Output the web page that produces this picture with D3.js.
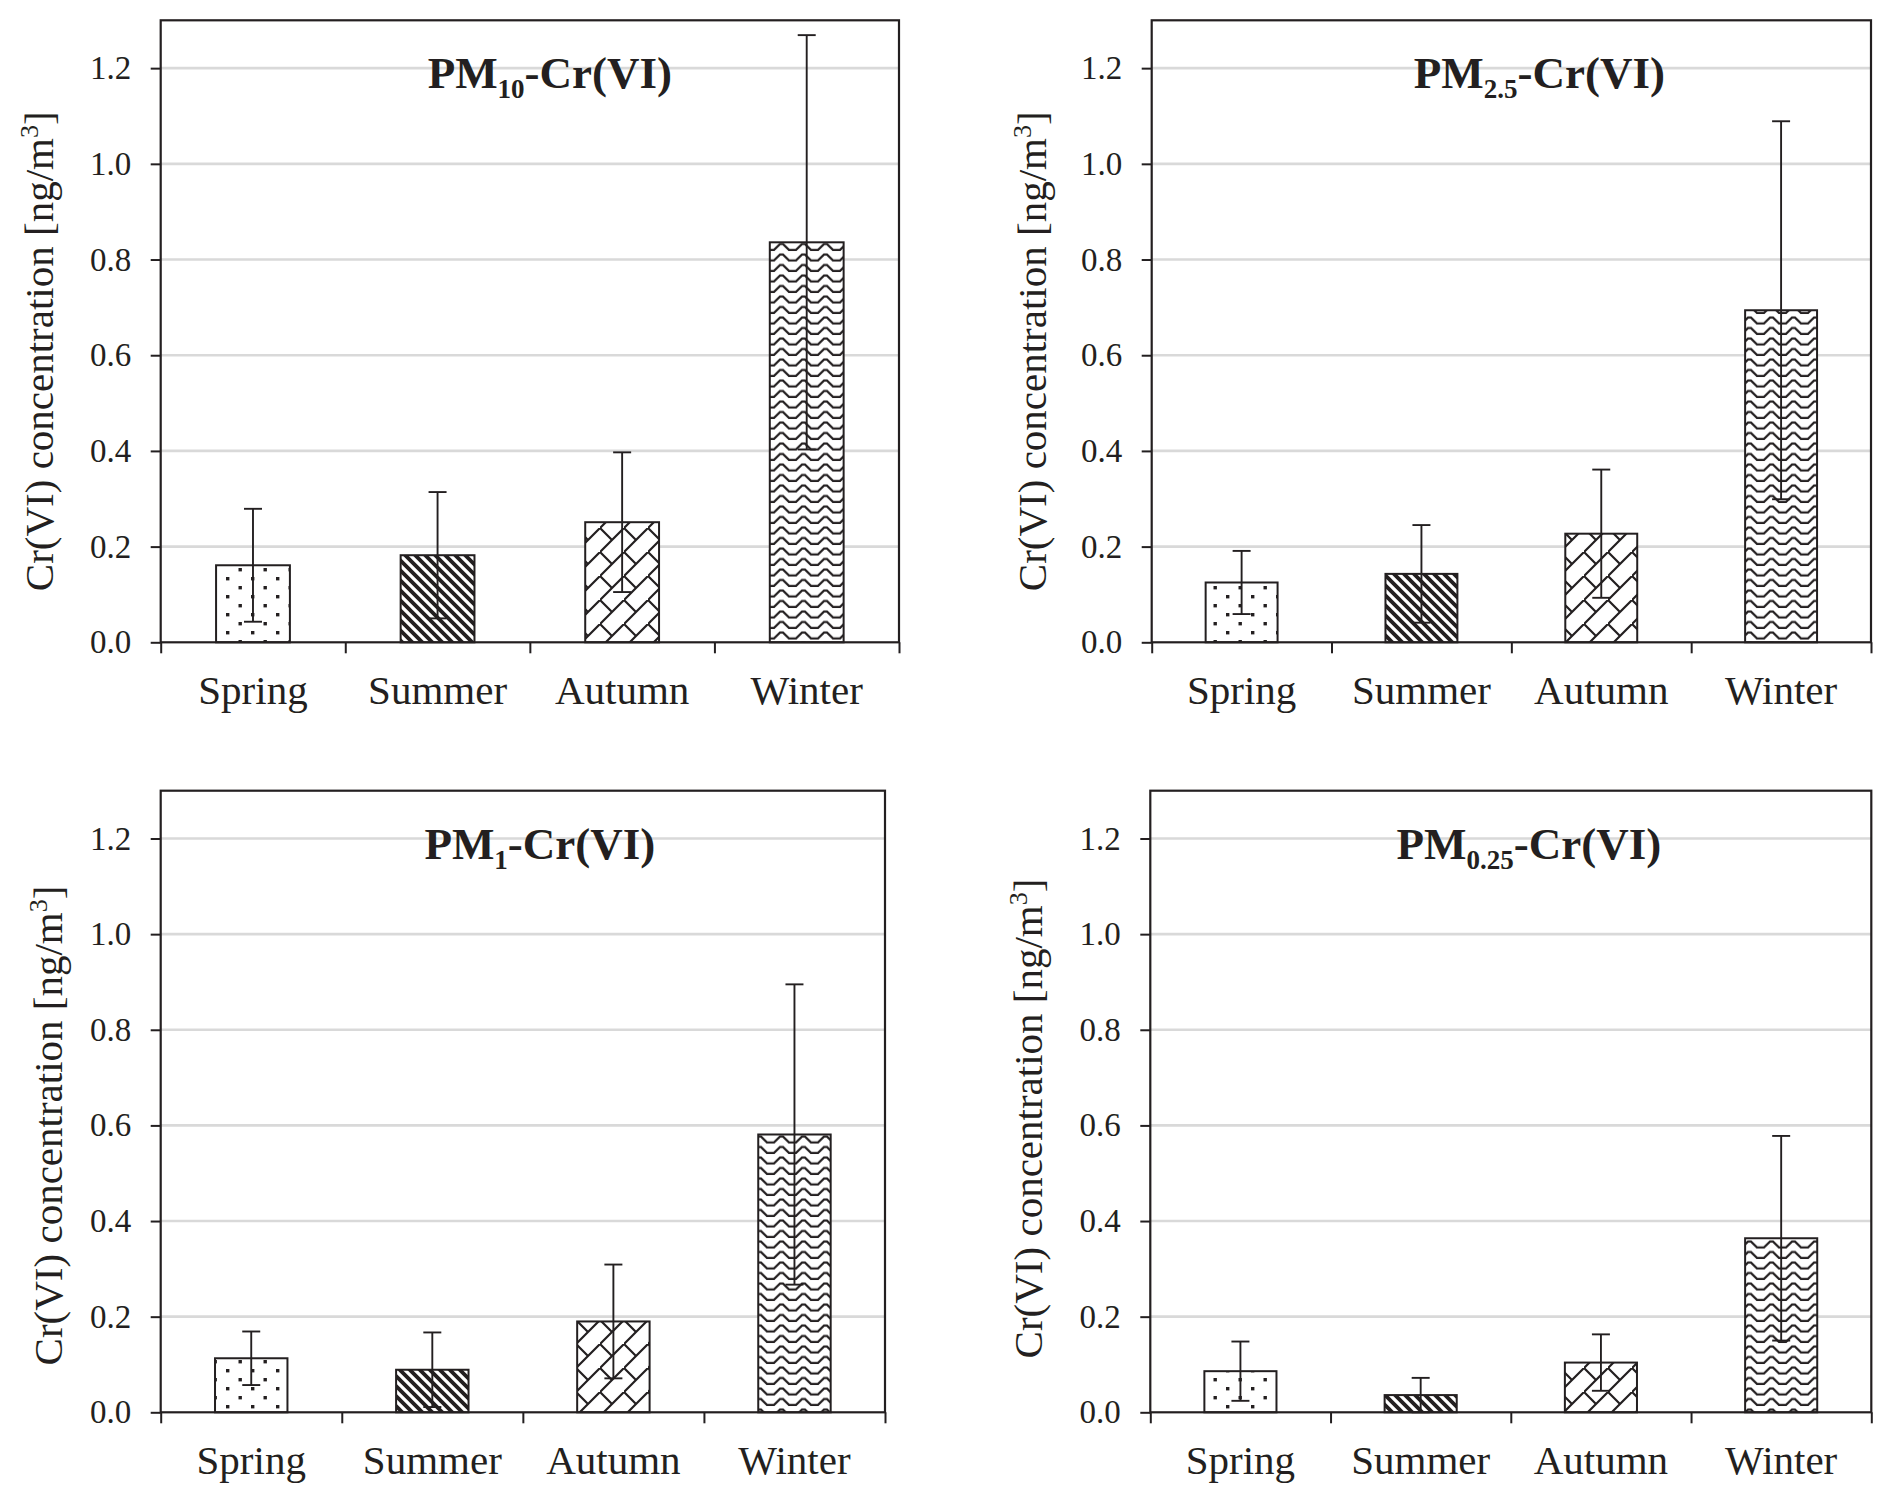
<!DOCTYPE html>
<html>
<head>
<meta charset="utf-8">
<script src="https://cdn.jsdelivr.net/npm/d3@7"></script>
<style>
  body { margin: 0; background: #fff; }
  text { font-family: 'Liberation Serif', 'Times New Roman', serif; fill: #231f20; }
</style>
</head>
<body>
<svg id="chart"></svg>
<script>
// seasons on the x axis, same in every panel
var seasons = ['Spring', 'Summer', 'Autumn', 'Winter'];
var yTicks = [0, 0.2, 0.4, 0.6, 0.8, 1.0, 1.2];
var sizeSubs = ['10', '2.5', '1', '0.25'];

// mean and standard deviation of Cr(VI), ng/m3
var pm10Mean = [0.161, 0.182, 0.251, 0.836];
var pm10Sd = [0.118, 0.132, 0.146, 0.433];
var pm25Mean = [0.125, 0.143, 0.227, 0.694];
var pm25Sd = [0.066, 0.102, 0.134, 0.395];
var pm1Mean = [0.113, 0.089, 0.190, 0.581];
var pm1Sd = [0.056, 0.078, 0.119, 0.314];
var pm025Mean = [0.086, 0.036, 0.104, 0.364];
var pm025Sd = [0.062, 0.036, 0.059, 0.214];

var panelMeans = [pm10Mean, pm25Mean, pm1Mean, pm025Mean];
var panelSds = [pm10Sd, pm25Sd, pm1Sd, pm025Sd];
var fills = ['dots', 'stripes', 'brick', 'waves'];

// plot boxes of the four panels (pixels)
var boxes = [
    {x0: 160.7, x1: 899, y0: 20.3, y1: 642.3, titleDx: 20, yTitleX: -108, yTitleDy: 20},
    {x0: 1151.7, x1: 1871, y0: 20.3, y1: 642.3, titleDx: 28, yTitleX: -106, yTitleDy: 20},
    {x0: 160.7, x1: 885, y0: 790.7, y1: 1412.3, titleDx: 17, yTitleX: -99, yTitleDy: 24},
    {x0: 1150.3, x1: 1871.3, y0: 790.7, y1: 1412.3, titleDx: 18, yTitleX: -108, yTitleDy: 17}
];

var ink = '#231f20';
var serif = "'Liberation Serif', 'Times New Roman', serif";
var svg = d3.select('#chart').attr('width', 1892).attr('height', 1503);
var defs = svg.append('defs');

// hatch patterns
var p = defs.append('pattern').attr('id', 'dots').attr('patternUnits', 'userSpaceOnUse')
    .attr('width', 25).attr('height', 18);
p.append('rect').attr('width', 25).attr('height', 18).attr('fill', '#fff');
p.append('rect').attr('x', 1).attr('y', 1).attr('width', 3.4).attr('height', 3.4).attr('fill', ink);
p.append('rect').attr('x', 13.5).attr('y', 10).attr('width', 3.4).attr('height', 3.4).attr('fill', ink);

p = defs.append('pattern').attr('id', 'stripes').attr('patternUnits', 'userSpaceOnUse')
    .attr('width', 10).attr('height', 10);
p.append('rect').attr('width', 10).attr('height', 10).attr('fill', '#fff');
p.append('path').attr('d', 'M-2,-2L12,12M-2,8L2,12M8,-2L12,2')
    .attr('stroke', ink).attr('stroke-width', 3.8);

p = defs.append('pattern').attr('id', 'brick').attr('patternUnits', 'userSpaceOnUse')
    .attr('width', 24).attr('height', 24);
p.append('rect').attr('width', 24).attr('height', 24).attr('fill', '#fff');
p.append('path').attr('d', 'M-2,26L26,-2M0,0L12,12')
    .attr('stroke', ink).attr('stroke-width', 2.2).attr('fill', 'none');

p = defs.append('pattern').attr('id', 'waves').attr('patternUnits', 'userSpaceOnUse')
    .attr('width', 22).attr('height', 10.5);
p.append('rect').attr('width', 22).attr('height', 10.5).attr('fill', '#fff');
p.append('path').attr('d', 'M0,8.5L4,8.5L10,2.5L13,2.5L19,8.5L22,8.5')
    .attr('stroke', ink).attr('stroke-width', 2.2).attr('fill', 'none');

function drawPanel(k) {
    var box = boxes[k];
    var x = d3.scaleBand().domain(seasons).range([box.x0, box.x1]).padding(0);
    var xEdge = d3.scaleLinear().domain([0, seasons.length]).range([box.x0, box.x1]);
    var y = d3.scaleLinear().domain([0, 1.3]).range([box.y1, box.y0]);
    var rows = seasons.map(function (s, i) {
        return {season: s, mean: panelMeans[k][i], sd: panelSds[k][i], fill: fills[i]};
    });
    var g = svg.append('g');

    g.selectAll('.grid')
        .data(yTicks.filter(function (v) { return v > 0; }))
        .enter().append('line')
        .attr('x1', box.x0).attr('x2', box.x1)
        .attr('y1', y).attr('y2', y)
        .attr('stroke', '#d9d9d9').attr('stroke-width', 2.6);

    var bw = x.bandwidth() * 0.4;
    g.selectAll('.bar').data(rows).enter().append('rect')
        .attr('x', function (d) { return x(d.season) + (x.bandwidth() - bw) / 2; })
        .attr('y', function (d) { return y(d.mean); })
        .attr('width', bw)
        .attr('height', function (d) { return y(0) - y(d.mean); })
        .attr('fill', function (d) { return 'url(#' + d.fill + ')'; })
        .attr('stroke', ink).attr('stroke-width', 2);

    // error bars
    var eb = g.selectAll('.err').data(rows).enter().append('g')
        .attr('transform', function (d) { return 'translate(' + (x(d.season) + x.bandwidth() / 2) + ',0)'; })
        .attr('stroke', ink).attr('stroke-width', 1.9);
    eb.append('line').attr('y1', function (d) { return y(Math.max(0, d.mean - d.sd)); })
        .attr('y2', function (d) { return y(d.mean + d.sd); });
    eb.append('line').attr('x1', -9).attr('x2', 9)
        .attr('y1', function (d) { return y(d.mean + d.sd); }).attr('y2', function (d) { return y(d.mean + d.sd); });
    eb.append('line').attr('x1', -9).attr('x2', 9)
        .attr('y1', function (d) { return y(Math.max(0, d.mean - d.sd)); })
        .attr('y2', function (d) { return y(Math.max(0, d.mean - d.sd)); });

    // axes
    var ya = g.append('g').attr('transform', 'translate(' + box.x0 + ',0)')
        .call(d3.axisLeft(y).tickValues(yTicks).tickFormat(d3.format('.1f')).tickSize(10).tickPadding(19.5))
        .attr('font-family', serif).attr('font-size', 33);
    ya.select('.domain').remove();
    ya.selectAll('line').attr('stroke', ink).attr('stroke-width', 2);
    ya.selectAll('text').attr('fill', ink);

    var xe = g.append('g').attr('transform', 'translate(0,' + box.y1 + ')')
        .call(d3.axisBottom(xEdge).tickValues(d3.range(seasons.length + 1)).tickFormat('').tickSize(11));
    xe.select('.domain').remove();
    xe.selectAll('line').attr('stroke', ink).attr('stroke-width', 2);

    var xa = g.append('g').attr('transform', 'translate(0,' + box.y1 + ')')
        .call(d3.axisBottom(x).tickSize(0).tickPadding(33))
        .attr('font-family', serif).attr('font-size', 41);
    xa.select('.domain').remove();
    xa.selectAll('text').attr('fill', ink);

    g.append('rect')
        .attr('x', box.x0).attr('y', box.y0)
        .attr('width', box.x1 - box.x0).attr('height', box.y1 - box.y0)
        .attr('fill', 'none').attr('stroke', ink).attr('stroke-width', 2.2);

    // panel title
    var t = g.append('text')
        .attr('x', (box.x0 + box.x1) / 2 + box.titleDx).attr('y', box.y0 + 68)
        .attr('text-anchor', 'middle').attr('font-size', 45).attr('font-weight', 'bold');
    t.append('tspan').text('PM');
    t.append('tspan').attr('font-size', 27).attr('dy', 10).text(sizeSubs[k]);
    t.append('tspan').attr('dy', -10).text('-Cr(VI)');

    // y axis title
    var cy = (box.y0 + box.y1) / 2 + box.yTitleDy;
    var yt = g.append('text')
        .attr('transform', 'translate(' + (box.x0 + box.yTitleX) + ',' + cy + ') rotate(-90)')
        .attr('text-anchor', 'middle').attr('font-size', 41);
    yt.append('tspan').text('Cr(VI) concentration [ng/m');
    yt.append('tspan').attr('font-size', 26).attr('dy', -15).text('3');
    yt.append('tspan').attr('dy', 15).text(']');
}

for (var k = 0; k < boxes.length; k++) {
    drawPanel(k);
}
</script>
</body>
</html>
